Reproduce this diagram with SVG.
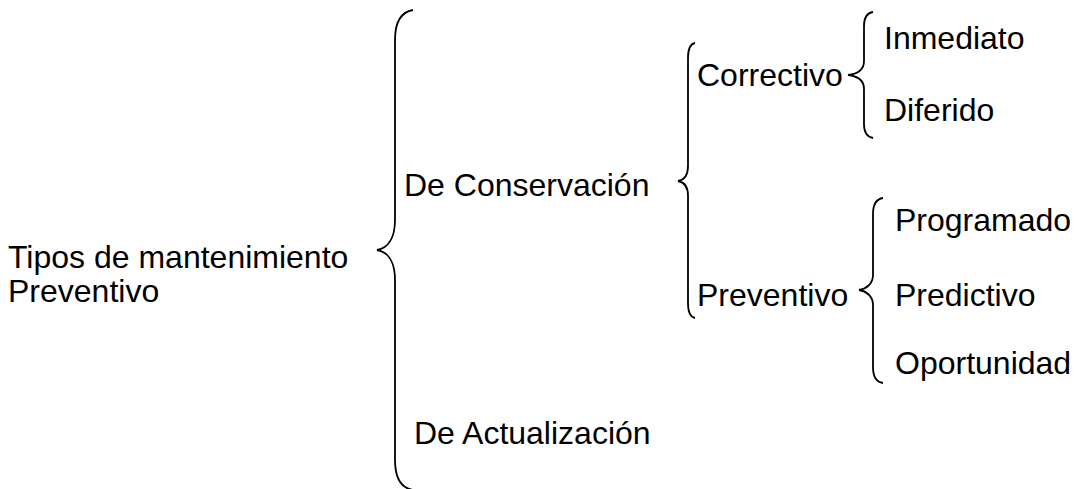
<svg xmlns="http://www.w3.org/2000/svg" width="1074" height="489" viewBox="0 0 1074 489">
<style>
text{font-family:"Liberation Sans",Arial,sans-serif;font-size:32px;fill:#000}
.b{fill:none;stroke:#000;stroke-width:1.8}
</style>
<rect width="1074" height="489" fill="#fff"/>
<g id="connectors">
<path class="b" d="M413,10 C401,12 395,22 395,40 V220 C395,238 388,248 377,250 C388,252 395,262 395,280 V460 C395,478 401,488 413,490"/>
<path class="b" d="M695,43 C690,44 688,50 688,58 V166 C688,175 684,180 678,181 C684,182 688,187 688,196 V303 C688,311 690,317 695,318"/>
<path class="b" d="M873,12 C867,13 864,18 864,26 V61 C864,70 857,74 848,75 C857,76 864,80 864,89 V124 C864,132 867,137 873,138"/>
<path class="b" d="M883,198 C876,199 873,205 873,214 V275 C873,284 866,289 859,290 C866,291 873,296 873,305 V367 C873,376 876,382 883,383"/>
</g>
<g id="root"><text x="8" y="268">Tipos de mantenimiento</text><text x="8" y="302">Preventivo</text></g>
<g id="conservacion"><text x="404" y="196">De Conservación</text></g>
<g id="actualizacion"><text x="414" y="444">De Actualización</text></g>
<g id="correctivo"><text x="697" y="86">Correctivo</text></g>
<g id="preventivo"><text x="697" y="306">Preventivo</text></g>
<g id="inmediato"><text x="884" y="49">Inmediato</text></g>
<g id="diferido"><text x="884" y="121">Diferido</text></g>
<g id="programado"><text x="895" y="231">Programado</text></g>
<g id="predictivo"><text x="895" y="306">Predictivo</text></g>
<g id="oportunidad"><text x="895" y="374">Oportunidad</text></g>
</svg>
